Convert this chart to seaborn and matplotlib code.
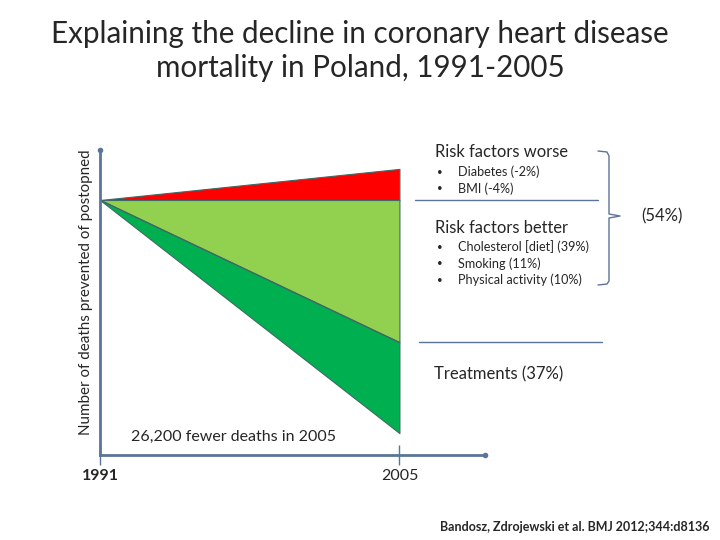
import numpy as np
import pandas as pd
import seaborn as sns
import matplotlib.pyplot as plt
from matplotlib.lines import Line2D
from matplotlib.transforms import blended_transform_factory, ScaledTranslation

# deaths prevented (approx, read off the schematic), 1991 -> 2005
years = [1991, 2005]
worse = [0, -3500]        # risk factors worse (diabetes, BMI)
better = [0, 16000]       # risk factors better (cumulative)
treatments = [0, 26200]   # better + treatments (cumulative)

worse_items = ["Diabetes (-2%)", "BMI (-4%)"]
better_items = ["Cholesterol [diet] (39%)", "Smoking (11%)", "Physical activity (10%)"]

df = pd.DataFrame({"year": years, "worse": worse, "better": better, "treat": treatments})

sns.set_theme(style="white")
plt.rcParams["font.family"] = ["Lato", "DejaVu Sans"]

fig = plt.figure(figsize=(7.2, 5.4), dpi=100)
ax = fig.add_axes([0.1389, 0.1574, 0.5347, 0.5648])

edge = "#3d6b66"
ax.fill_between(df["year"], df["worse"], 0, color="#ff0000", edgecolor=edge, lw=0.8)
ax.fill_between(df["year"], 0, df["better"], color="#92d050", edgecolor=edge, lw=0.8)
ax.fill_between(df["year"], df["better"], df["treat"], color="#00b050", edgecolor=edge, lw=0.8)
sns.lineplot(data=df, x="year", y="better", color=edge, lw=0.8, ax=ax)

ax.set_xlim(1991, 2009.0)
ax.set_ylim(28660, -5620)
ax.set_xticks([1991, 2005])
ax.set_xticklabels(["1991", "2005"], fontsize=11.5)
lab0 = ax.get_xticklabels()[0]
lab0.set_fontweight("bold")
lab0.set_transform(lab0.get_transform() + ScaledTranslation(0.07, 0, fig.dpi_scale_trans))
ax.set_yticks([])
ax.set_xlabel("")
ax.set_ylabel("Number of deaths prevented of postopned", fontsize=10.9)
ax.yaxis.set_label_coords(-0.018, 0.534)

axis_col = "#5b7499"
ax.tick_params(axis="x", bottom=True, direction="inout", length=14, width=1, color=axis_col, pad=3)
for s in ["top", "right"]:
    ax.spines[s].set_visible(False)
for s in ["left", "bottom"]:
    ax.spines[s].set_color(axis_col)
    ax.spines[s].set_linewidth(2)
ax.plot(0, 1, marker="o", ms=3, color=axis_col, transform=ax.transAxes, clip_on=False)
ax.plot(1, 0, marker="o", ms=3, color=axis_col, transform=ax.transAxes, clip_on=False)

# title
fig.text(0.5, 1 - 51 / 540, "Explaining the decline in coronary heart disease\nmortality in Poland, 1991-2005",
         ha="center", va="center", fontsize=21.3, linespacing=1.3)

# right-side annotations
tr = blended_transform_factory(fig.transFigure, ax.transData)
fig.add_artist(Line2D([415 / 720, 598 / 720], [0, 0], transform=tr, color=axis_col, lw=1))
fig.add_artist(Line2D([419 / 720, 602 / 720], [better[1], better[1]], transform=tr, color=axis_col, lw=1))

fig.text(435 / 720, 1 - 152 / 540, "Risk factors worse", fontsize=11.9, va="center")
for i, t in enumerate(worse_items):
    yy = 1 - (172 + 16.5 * i) / 540
    fig.text(437 / 720, yy, "\u2022", fontsize=7, va="center")
    fig.text(458 / 720, yy, t, fontsize=9.1, va="center")

fig.text(435 / 720, 1 - 228 / 540, "Risk factors better", fontsize=11.9, va="center")
for i, t in enumerate(better_items):
    yy = 1 - (247 + 16.5 * i) / 540
    fig.text(437 / 720, yy, "\u2022", fontsize=7, va="center")
    fig.text(458 / 720, yy, t, fontsize=9.1, va="center")

fig.text(434 / 720, 1 - 374 / 540, "Treatments (37%)", fontsize=12, va="center")

# brace
bx = [598, 607, 609, 609, 620, 609, 609, 607, 598]
by = [151, 152, 156, 214, 216, 218, 281, 284, 285]
fig.add_artist(Line2D([v / 720 for v in bx], [1 - v / 540 for v in by],
                      transform=fig.transFigure, color=axis_col, lw=1))
fig.text(662 / 720, 1 - 216 / 540, "(54%)", fontsize=12, ha="center", va="center")

ax.text(0.08, 0.06, "26,200 fewer deaths in 2005", transform=ax.transAxes, fontsize=11.5, va="center")

fig.text(440 / 720, 1 - 527 / 540, "Bandosz, Zdrojewski et al. BMJ 2012;344:d8136",
         fontsize=9.0, fontweight="bold", va="center")

fig.savefig("out.png", dpi=100)
